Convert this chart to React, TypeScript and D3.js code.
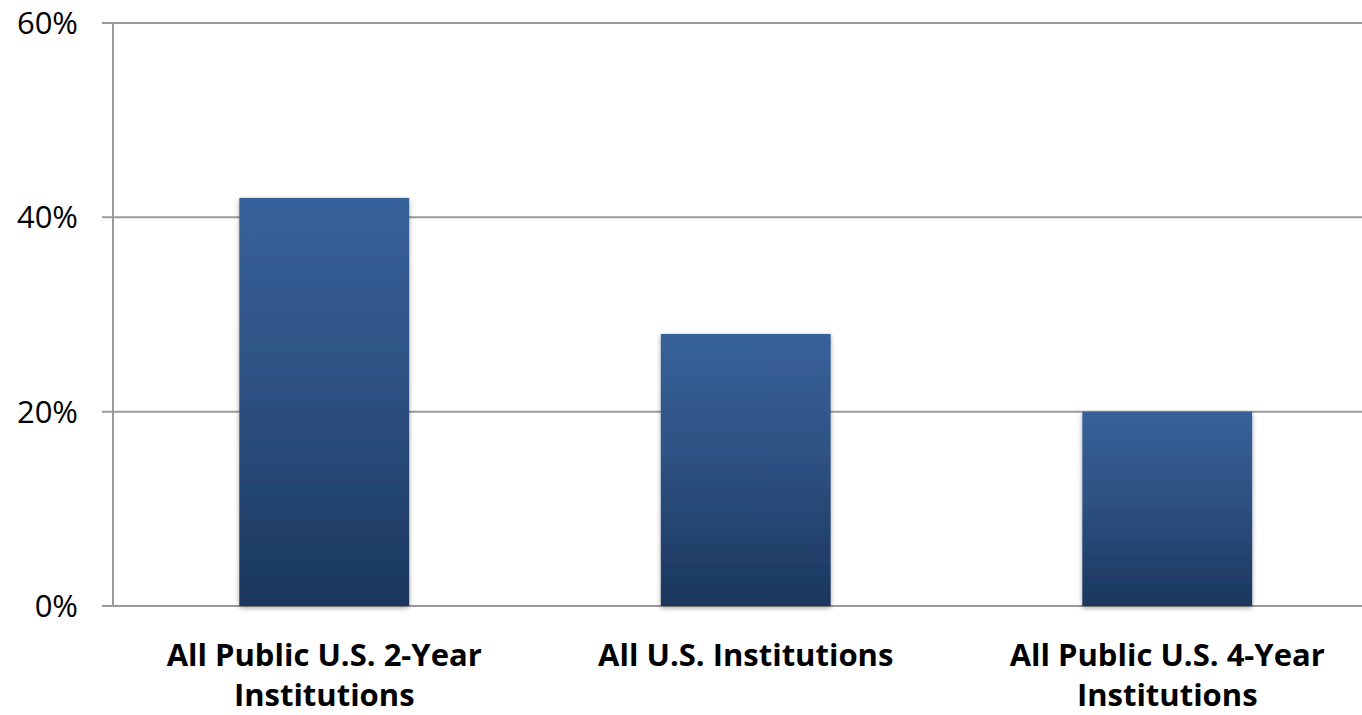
import React from "react";
import * as d3 from "d3";

const categories = [
  ["All Public U.S. 2-Year", "Institutions"],
  ["All U.S. Institutions"],
  ["All Public U.S. 4-Year", "Institutions"],
];
const values = [42, 28, 20];
const yTicks = [0, 20, 40, 60];

const W = 1362;
const H = 715;

export default function App() {
  const x = d3
    .scaleBand<number>()
    .domain(d3.range(categories.length))
    .range([113.5, 1378])
    .paddingInner(0.597)
    .paddingOuter(0.2985);
  const y = d3.scaleLinear().domain([0, 60]).range([606, 23]);

  return (
    <svg
      width={W}
      height={H}
      style={{ position: "absolute", left: 0, top: 0, background: "#fff" }}
    >
      <defs>
        <linearGradient id="barGrad" x1="0" y1="0" x2="0" y2="1">
          <stop offset="0%" stopColor="#37619a" />
          <stop offset="45%" stopColor="#2e5283" />
          <stop offset="100%" stopColor="#1a365d" />
        </linearGradient>
        <filter id="shadow" x="-10%" y="-10%" width="120%" height="120%">
          <feDropShadow dx="0" dy="2" stdDeviation="2.5" floodColor="#000" floodOpacity="0.35" />
        </filter>
      </defs>
      {yTicks.map((t) => (
        <g key={t}>
          <line
            x1={102}
            x2={W}
            y1={y(t)}
            y2={y(t)}
            stroke="#9a9a9a"
            strokeWidth={2}
          />
          <text
            x={78}
            y={y(t)}
            dy="0.36em"
            textAnchor="end"
            fontFamily="'Open Sans', sans-serif"
            fontSize={31}
            fill="#000"
          >
            {t}%
          </text>
        </g>
      ))}
      <line x1={113} x2={113} y1={y(60)} y2={y(0)} stroke="#9a9a9a" strokeWidth={2} />
      {values.map((v, i) => (
        <rect
          key={i}
          x={x(i)}
          y={y(v)}
          width={x.bandwidth()}
          height={y(0) - y(v)}
          fill="url(#barGrad)"
          filter="url(#shadow)"
        />
      ))}
      {categories.map((lines, i) => (
        <text
          key={i}
          textAnchor="middle"
          fontFamily="'Open Sans', sans-serif"
          fontWeight="bold"
          fontSize={31}
          fill="#000"
        >
          {lines.map((l, j) => (
            <tspan key={j} x={(x(i) as number) + x.bandwidth() / 2} y={666 + j * 40}>
              {l}
            </tspan>
          ))}
        </text>
      ))}
    </svg>
  );
}
